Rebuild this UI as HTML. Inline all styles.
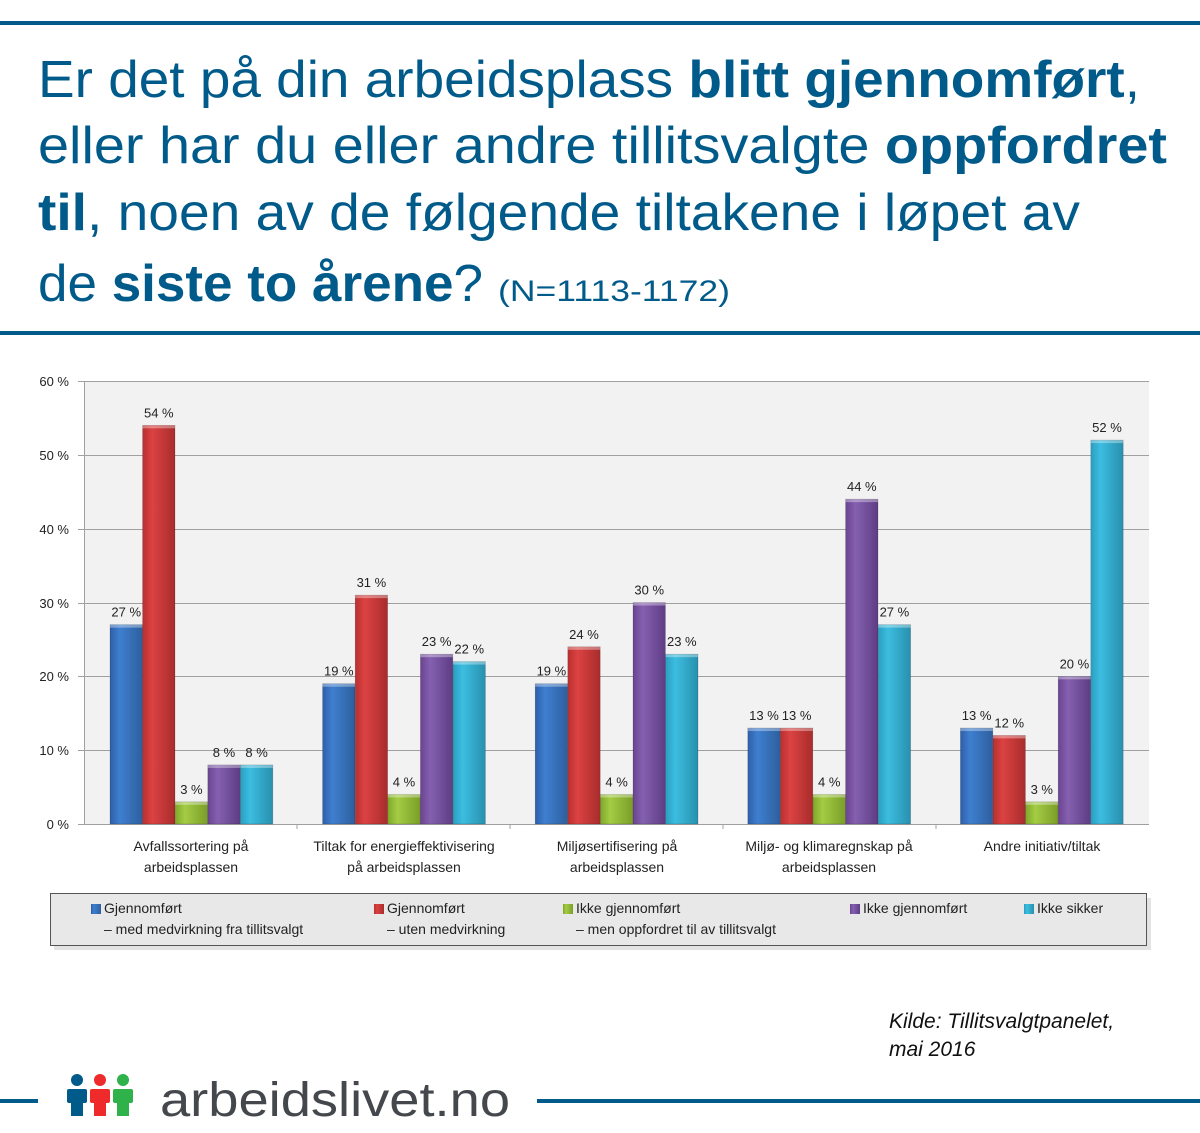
<!DOCTYPE html>
<html><head><meta charset="utf-8">
<style>
html,body{margin:0;padding:0;background:#fff;}
svg{display:block;font-family:"Liberation Sans",sans-serif;}
</style></head>
<body>
<svg width="1200" height="1133" viewBox="0 0 1200 1133" xmlns="http://www.w3.org/2000/svg">
<defs>
<linearGradient id="gB" x1="0" x2="1"><stop offset="0" stop-color="#2f5fa8"/><stop offset=".3" stop-color="#3e7fd0"/><stop offset="1" stop-color="#2e5f9e"/></linearGradient>
<linearGradient id="gR" x1="0" x2="1"><stop offset="0" stop-color="#b83030"/><stop offset=".3" stop-color="#dc4242"/><stop offset="1" stop-color="#a82c2c"/></linearGradient>
<linearGradient id="gG" x1="0" x2="1"><stop offset="0" stop-color="#7fa82a"/><stop offset=".3" stop-color="#a4cc44"/><stop offset="1" stop-color="#7a9e28"/></linearGradient>
<linearGradient id="gP" x1="0" x2="1"><stop offset="0" stop-color="#6a4490"/><stop offset=".3" stop-color="#8560b0"/><stop offset="1" stop-color="#5e3d84"/></linearGradient>
<linearGradient id="gC" x1="0" x2="1"><stop offset="0" stop-color="#2a9ec0"/><stop offset=".3" stop-color="#3cbde0"/><stop offset="1" stop-color="#2890ae"/></linearGradient>
</defs>
<rect x="0" y="21" width="1200" height="4" fill="#005a8a"/>
<rect x="0" y="331" width="1200" height="4" fill="#005a8a"/>
<g fill="#005a8a" font-size="52">
<text x="38" y="97" textLength="1102" lengthAdjust="spacingAndGlyphs">Er det på din arbeidsplass <tspan font-weight="bold">blitt gjennomført</tspan>,</text>
<text x="38" y="163" textLength="1129" lengthAdjust="spacingAndGlyphs">eller har du eller andre tillitsvalgte <tspan font-weight="bold">oppfordret</tspan></text>
<text x="38" y="230" textLength="1042" lengthAdjust="spacingAndGlyphs"><tspan font-weight="bold">til</tspan>, noen av de følgende tiltakene i løpet av</text>
<text x="38" y="301" textLength="445" lengthAdjust="spacingAndGlyphs">de <tspan font-weight="bold">siste to årene</tspan>?</text>
<text x="498" y="301" font-size="30" textLength="232" lengthAdjust="spacingAndGlyphs">(N=1113-1172)</text>
</g>
<!-- plot -->
<rect x="84" y="381" width="1065" height="443" fill="#f2f2f2"/>
<g stroke="#a0a0a0" stroke-width="1">
<line x1="78" y1="381.5" x2="1149" y2="381.5"/>
<line x1="78" y1="455.5" x2="1149" y2="455.5"/>
<line x1="78" y1="529.5" x2="1149" y2="529.5"/>
<line x1="78" y1="603.5" x2="1149" y2="603.5"/>
<line x1="78" y1="676.5" x2="1149" y2="676.5"/>
<line x1="78" y1="750.5" x2="1149" y2="750.5"/>
<line x1="78" y1="824.5" x2="1149" y2="824.5"/>
<line x1="84.5" y1="381" x2="84.5" y2="824"/>
<line x1="297" y1="824" x2="297" y2="829"/><line x1="510" y1="824" x2="510" y2="829"/><line x1="723" y1="824" x2="723" y2="829"/><line x1="936" y1="824" x2="936" y2="829"/>
</g>
<g font-size="13" fill="#222" text-anchor="end">
<text x="69" y="386">60 %</text><text x="69" y="460">50 %</text><text x="69" y="534">40 %</text>
<text x="69" y="608">30 %</text><text x="69" y="681">20 %</text><text x="69" y="755">10 %</text><text x="69" y="829">0 %</text>
</g>
<g id="bars"></g>
<g font-size="14" fill="#222" text-anchor="middle">
<text x="191" y="851">Avfallssortering på</text><text x="191" y="872">arbeidsplassen</text>
<text x="404" y="851">Tiltak for energieffektivisering</text><text x="404" y="872">på arbeidsplassen</text>
<text x="617" y="851">Miljøsertifisering på</text><text x="617" y="872">arbeidsplassen</text>
<text x="829" y="851">Miljø- og klimaregnskap på</text><text x="829" y="872">arbeidsplassen</text>
<text x="1042" y="851">Andre initiativ/tiltak</text>
</g>
<!-- legend -->
<rect x="54" y="898" width="1097" height="52" fill="#d0d0d0" opacity=".6"/>
<rect x="50.5" y="893.5" width="1096" height="52" fill="#e8e8e8" stroke="#555"/>
<g font-size="14" fill="#222">
<rect x="91" y="904" width="10" height="10" fill="url(#gB)"/><text x="104" y="913">Gjennomført</text><text x="104" y="934">– med medvirkning fra tillitsvalgt</text>
<rect x="374" y="904" width="10" height="10" fill="url(#gR)"/><text x="387" y="913">Gjennomført</text><text x="387" y="934">– uten medvirkning</text>
<rect x="563" y="904" width="10" height="10" fill="url(#gG)"/><text x="576" y="913">Ikke gjennomført</text><text x="576" y="934">– men oppfordret til av tillitsvalgt</text>
<rect x="850" y="904" width="10" height="10" fill="url(#gP)"/><text x="863" y="913">Ikke gjennomført</text>
<rect x="1024" y="904" width="10" height="10" fill="url(#gC)"/><text x="1037" y="913">Ikke sikker</text>
</g>
<g font-size="21" font-style="italic" fill="#111">
<text x="889" y="1028">Kilde: Tillitsvalgtpanelet,</text>
<text x="889" y="1056">mai 2016</text>
</g>
<!-- footer -->
<rect x="0" y="1099" width="38" height="4" fill="#005a8a"/>
<rect x="537" y="1099" width="663" height="4" fill="#005a8a"/>
<g>
<circle cx="77" cy="1080" r="6" fill="#005a8a"/><rect x="67" y="1089" width="20" height="14" rx="2" fill="#005a8a"/><rect x="71" y="1100" width="12" height="16" fill="#005a8a"/>
<circle cx="100" cy="1080" r="6" fill="#ee2a2a"/><rect x="90" y="1089" width="20" height="14" rx="2" fill="#ee2a2a"/><rect x="94" y="1100" width="12" height="16" fill="#ee2a2a"/>
<circle cx="123" cy="1080" r="6" fill="#2fb24a"/><rect x="113" y="1089" width="20" height="14" rx="2" fill="#2fb24a"/><rect x="117" y="1100" width="12" height="16" fill="#2fb24a"/>
</g>
<text x="160" y="1116" font-size="48" fill="#44474c" textLength="350" lengthAdjust="spacingAndGlyphs">arbeidslivet.no</text>
</svg>
<script>
var data=[[27,54,3,8,8],[19,31,4,23,22],[19,24,4,30,23],[13,13,4,44,27],[13,12,3,20,52]];
var fills=['gB','gR','gG','gP','gC'];
var g=document.getElementById('bars'),ns='http://www.w3.org/2000/svg',h='';
for(var i=0;i<5;i++)for(var j=0;j<5;j++){
 var v=data[i][j],x=110+i*212.6+j*32.6,y=824-v*7.383;
 h+='<rect x="'+x+'" y="'+y+'" width="32.4" height="'+(824-y)+'" fill="url(#'+fills[j]+')" stroke="rgba(0,0,0,0.25)" stroke-width="0.6"/>';
 h+='<rect x="'+x+'" y="'+y+'" width="32.4" height="3" fill="rgba(255,255,255,0.35)"/>';
 h+='<text x="'+(x+16.2)+'" y="'+(y-8)+'" font-size="13" fill="#222" text-anchor="middle">'+v+' %</text>';
}
g.innerHTML=h;
</script>
</body></html>
